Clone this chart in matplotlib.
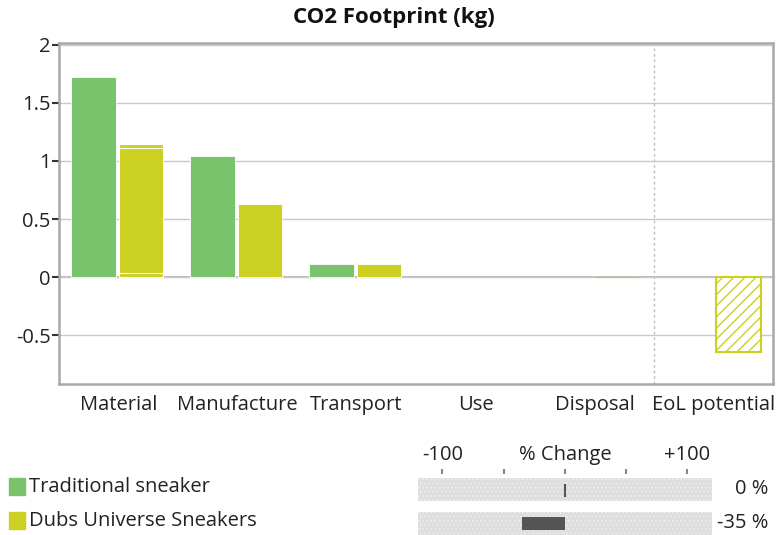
import matplotlib.pyplot as plt
import numpy as np

plt.rcParams['font.family'] = ['Open Sans', 'DejaVu Sans']

# ---------------- data ----------------
stages = ['Material', 'Manufacture', 'Transport', 'Use', 'Disposal', 'EoL potential']
traditional = [1.72, 1.045, 0.11, 0.0, 0.0, 0.0]
dubs = [1.145, 0.63, 0.11, 0.0, 0.004, -0.65]
# the Material bar of Dubs is drawn as stacked pieces (thin white seams)
dubs_material_parts = [0.035, 1.08, 0.03]
series_names = ['Traditional sneaker', 'Dubs Universe Sneakers']
pct_change = [0, -35]
pct_labels = ['0 %', '-35 %']

green = '#78c36c'
yellow = '#ccd020'
W, H = 781, 535
fs = 14.5

fig = plt.figure(figsize=(W / 100, H / 100), dpi=100)

def px_axes(x0, y0, x1, y1):
    # axes from pixel box (top-left origin)
    return fig.add_axes([x0 / W, 1 - y1 / H, (x1 - x0) / W, (y1 - y0) / H])

# ---------------- main bar chart ----------------
ax = px_axes(59, 43, 773, 384)
x = np.arange(len(stages))
bw = 0.37

for i in range(len(stages)):
    if traditional[i] != 0:
        ax.bar(x[i] - 0.21, traditional[i], bw, color=green, edgecolor='white', lw=0.6, zorder=3)
    v = dubs[i]
    if i == 0:
        bottom = 0
        for p in dubs_material_parts:
            ax.bar(x[i] + 0.19, p, bw, bottom=bottom, color=yellow, edgecolor='white', lw=0.8, zorder=3)
            bottom += p
    elif v < 0:
        ax.bar(x[i] + 0.21, v, bw, facecolor='white', edgecolor=yellow, hatch='///', lw=1.5, zorder=3)
    elif v > 0:
        ax.bar(x[i] + 0.19, v, bw, color=yellow, edgecolor=yellow if v < 0.02 else 'white',
               lw=0.8 if v < 0.02 else 0.6, zorder=3)

ax.set_xlim(-0.5, len(stages) - 0.5)
ax.set_ylim(-0.922, 2.017)
ax.set_yticks([-0.5, 0, 0.5, 1, 1.5, 2])
ax.set_yticklabels(['-0.5', '0', '0.5', '1', '1.5', '2'])
ax.set_xticks(x)
ax.set_xticklabels(stages)
ax.tick_params(axis='x', length=0, pad=8, labelsize=fs, labelcolor='#222222')
ax.tick_params(axis='y', length=5, width=1.5, color='#333333', pad=1, labelsize=fs, labelcolor='#222222')
ax.grid(axis='y', color='#c8c8c8', lw=1, zorder=0)
ax.axhline(0, color='#b0b0b0', lw=1.2, zorder=1)
ax.axvline(4.5, color='#c0c0c0', lw=1, ls=(0, (2, 2)), zorder=1)
for s in ax.spines.values():
    s.set_color('#a8a8a8')
    s.set_linewidth(1.8)

fig.text(394 / W, 1 - 18 / H, 'CO2 Footprint (kg)', ha='center', va='center',
         fontsize=16, fontweight='bold', color='#111111')

# ---------------- legend ----------------
legend_colors = [green, yellow]
legend_y = [487, 521]
for name, c, yy in zip(series_names, legend_colors, legend_y):
    fig.patches.append(plt.Rectangle((9 / W, 1 - (yy + 8) / H), 16 / W, 17 / H,
                                     transform=fig.transFigure, color=c))
    fig.text(29 / W, 1 - yy / H, name, ha='left', va='center', fontsize=fs, color='#222222')

# ---------------- % change panel ----------------
ax2 = px_axes(418, 440, 712, 535)
ax2.set_xlim(-120, 120)
ax2.set_ylim(535, 440)
ax2.axis('off')
row_y = [489.5, 523]
for k, (val, yy) in enumerate(zip(pct_change, row_y)):
    ax2.barh(yy, 240, height=23, left=-120, color='#dedede', edgecolor='#ebebeb',
             hatch='....', lw=0, zorder=1)
    if val == 0:
        ax2.vlines(0, yy - 6, yy + 7, color='#555555', lw=1.5, zorder=3)
    else:
        ax2.barh(yy, val, height=13, left=0, color='#555555', zorder=3)
    fig.text(768 / W, 1 - yy / H, pct_labels[k], ha='right', va='center',
             fontsize=fs, color='#222222')

ax2.vlines([-100, -50, 0, 50, 100], 469, 474, color='#888888', lw=1.5)
ax2.text(-100, 455, '-100', ha='center', va='center', fontsize=fs, color='#222222')
ax2.text(0, 455, '% Change', ha='center', va='center', fontsize=fs, color='#222222')
ax2.text(100, 455, '+100', ha='center', va='center', fontsize=fs, color='#222222')

fig.savefig('out.png', dpi=100)
